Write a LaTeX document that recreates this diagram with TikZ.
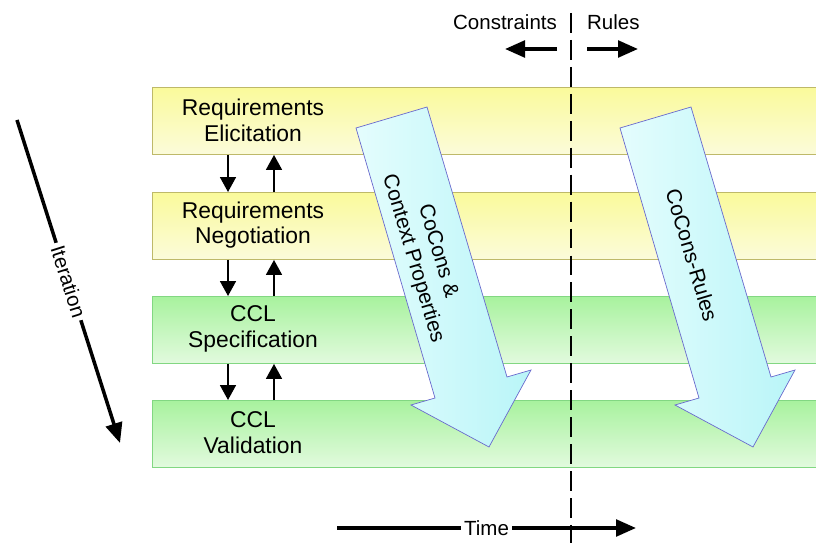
\documentclass[tikz,border=0pt]{standalone}
\usepackage{fontspec}
\setmainfont{Liberation Sans}
\usetikzlibrary{positioning, arrows.meta}

\definecolor{reqtop}{RGB}{250,250,155}
\definecolor{reqbottom}{RGB}{251,251,218}
\definecolor{reqline}{RGB}{190,185,105}
\definecolor{ccltop}{RGB}{168,242,158}
\definecolor{cclbottom}{RGB}{226,250,222}
\definecolor{cclline}{RGB}{130,215,130}
\definecolor{arrowleft}{RGB}{228,253,253}
\definecolor{arrowright}{RGB}{185,245,248}
\definecolor{arrowline}{RGB}{105,105,205}

\begin{document}
\begin{tikzpicture}[x=0.3mm, y=-0.3mm, font=\fontsize{18}{22}\selectfont,
    band/.style={anchor=north west, inner sep=0pt, minimum width=200mm, minimum height=20.1mm, line width=0.8pt},
    reqband/.style={band, draw=reqline, top color=reqtop, bottom color=reqbottom},
    cclband/.style={band, draw=cclline, top color=ccltop, bottom color=cclbottom},
    stagetext/.style={align=center, font=\fontsize{19.5}{22}\selectfont},
    sidetext/.style={font=\fontsize{17.5}{20}\selectfont},
    flow/.style={line width=1.5pt, -{Triangle[width=4.8mm, length=4.5mm]}},
    timearrow/.style={line width=3pt, -{Triangle[width=5mm, length=6mm]}},
    bigarrow/.style={draw=arrowline, line width=0.6pt, left color=arrowleft, right color=arrowright},
    split/.style={line width=1.2pt, dash pattern=on 17pt off 6pt}]
  \useasboundingbox (0,0) rectangle (816,543);

  % process stages
  \node[reqband] (elic) at (152,87) {};
  \node[reqband] (nego) at (152,192) {};
  \node[cclband] (spec) at (152,296) {};
  \node[cclband] (valid) at (152,400) {};

  \node[stagetext] (elictext) at (253,120) {Requirements\\Elicitation};
  \node[stagetext] (negotext) at (253,225) {Requirements\\Negotiation};
  \node[stagetext] (spectext) at (253,329) {CCL\\Specification};
  \node[stagetext] (validtext) at (253,433) {CCL\\Validation};

  \coordinate (down) at (228,0);
  \coordinate (up) at (274,0);
  \foreach \a/\b in {elic/nego, nego/spec, spec/valid} {
    \draw[flow] (\a.south -| down) -- (\b.north -| down);
    \draw[flow] (\b.north -| up) -- (\a.south -| up);
  }

  % the two broad arrows
  \path[bigarrow] (356,128) -- (427,107) -- (507,377) -- (531,370) -- (489,447)
    -- (411,405) -- (435,398) -- cycle;
  \path[bigarrow, shift={(264,0)}] (356,128) -- (427,107) -- (507,377) -- (531,370) -- (489,447)
    -- (411,405) -- (435,398) -- cycle;
  \node[align=center, rotate=-73.5] (cocons) at (425,255) {CoCons \&\\Context Properties};
  \node[rotate=-73.5] (coconsrules) at (692,255) {CoCons-Rules};

  % iteration and time
  \coordinate (iterstart) at (17,120);
  \coordinate (iterend) at (120,443);
  \draw[timearrow] (iterstart) -- node[sidetext, sloped, fill=white, inner sep=3pt] (iterlabel) {Iteration} (iterend);

  \coordinate (timestart) at (337,528);
  \coordinate (timeend) at (636,528);
  \draw[timearrow] (timestart) -- node[sidetext, fill=white, inner sep=3pt] (timelabel) {Time} (timeend);

  % constraints | rules
  \coordinate (splittop) at (571,13);
  \coordinate (splitbottom) at (571,545);
  \draw[split] (splittop) -- (splitbottom);

  \node[sidetext, anchor=east] (constraints) at (561,22) {Constraints};
  \node[sidetext, anchor=west] (rules) at (583,22) {Rules};
  \coordinate (cfrom) at (557,49);
  \coordinate (cto) at (505,49);
  \coordinate (rfrom) at (587,49);
  \coordinate (rto) at (638,49);
  \draw[timearrow] (cfrom) -- (cto);
  \draw[timearrow] (rfrom) -- (rto);
\end{tikzpicture}
\end{document}
